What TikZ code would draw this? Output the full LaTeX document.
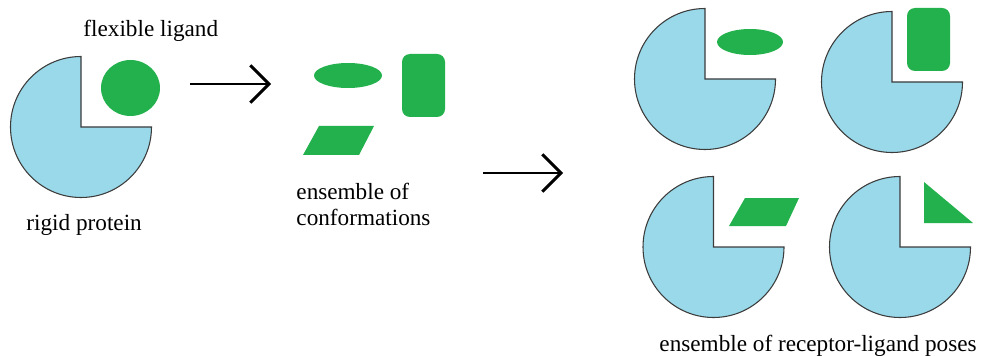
\documentclass[tikz,border=0pt]{standalone}
\usepackage{fontspec}
\setmainfont{Liberation Serif}
\usepackage{tikz}
\usetikzlibrary{
    arrows.meta
}
\definecolor{proteinblue}{RGB}{153,217,234}
\definecolor{ligandgreen}{RGB}{34,177,76}
\definecolor{outlinegray}{RGB}{60,60,60}
\tikzset{
    >={Straight Barb[length=14pt,width=28pt]},
    protein/.pic={
        \filldraw[fill=proteinblue, draw=outlinegray, line width=0.8pt]
            (0,0) -- (0:70.5) arc[start angle=0, end angle=270, radius=70.5] -- cycle;
    },
    ligand/.style={
        fill=ligandgreen
    },
    caption/.style={
        font=\fontsize{17.4}{19.5}\selectfont,
        inner sep=0pt,
        anchor=base west,
        align=left
    }
}
\begin{document}
\begin{tikzpicture}[
    x=0.75pt, y=-0.75pt,
    line width=2.2pt
]
    \useasboundingbox (0,0) rectangle (981,356);

    % Proteina y ligando
    \pic at (81,127) {protein};
    \fill[ligand] (130.5,88) ellipse[x radius=29.5, y radius=28];
    \node[caption] (flex) at (82,37)  {flexible ligand};
    \node[caption] (rigid) at (25,230) {rigid protein};

    % Conformaciones
    \fill[ligand] (348,75.5) ellipse[x radius=34, y radius=12.5];
    \fill[ligand, rounded corners=6pt] (402,54) rectangle (445,117);
    \fill[ligand] (319,126) -- (374,126) -- (359,155) -- (303,155) -- cycle;
    \node[caption] (conf) at (295,225) {ensemble of\\conformations};

    % Poses
    \pic at (705,79)    {protein};
    \pic at (892,82)    {protein};
    \pic at (713.5,247) {protein};
    \pic at (900,247)   {protein};
    \fill[ligand] (750,42) ellipse[x radius=33, y radius=13];
    \fill[ligand, rounded corners=6pt] (907,8) rectangle (950,71);
    \fill[ligand] (745,198) -- (799,198) -- (786,226) -- (729,226) -- cycle;
    \fill[ligand] (924,182) -- (924,223) -- (973,223) -- cycle;
    \node[caption] (poses) at (658,351) {ensemble of receptor-ligand poses};

    % Flechas
    \coordinate (a1) at (190,84);
    \coordinate (b1) at (271,84);
    \coordinate (a2) at (483,173);
    \coordinate (b2) at (563,173);
    \draw[->] (a1) -- (b1);
    \draw[->] (a2) -- (b2);

\end{tikzpicture}
\end{document}
